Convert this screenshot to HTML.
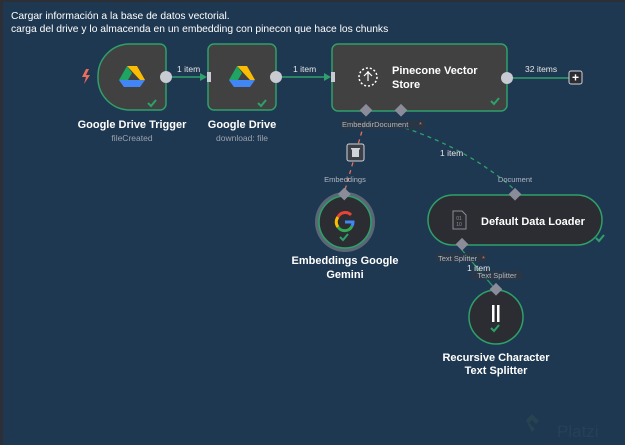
<!DOCTYPE html>
<html><head><meta charset="utf-8"><style>
html,body{margin:0;padding:0;background:#1f3851;width:625px;height:445px;overflow:hidden}
svg{display:block;font-family:"Liberation Sans",sans-serif}
</style></head><body>
<svg width="625" height="445" viewBox="0 0 625 445">
<rect width="625" height="445" fill="#1f3851"/>
<rect x="0" y="0" width="3" height="445" fill="#2c2f35"/>
<rect x="0" y="0" width="625" height="2" fill="#2c2f35"/>
<text x="11" y="19" font-size="10.3" fill="#fff">Cargar información a la base de datos vectorial.</text>
<text x="11" y="32" font-size="10.3" fill="#fff">carga del drive y lo almacenda en un embedding con pinecon que hace los chunks</text>

<!-- connections -->
<line x1="166" y1="77" x2="204" y2="77" stroke="#2ea06a" stroke-width="1.5"/>
<polygon points="200,73 207,77 200,81" fill="#2ea06a"/>
<text x="177" y="72" font-size="8.5" fill="#e6e6e6">1 item</text>
<line x1="276" y1="77" x2="328" y2="77" stroke="#2ea06a" stroke-width="1.5"/>
<polygon points="324,73 331,77 324,81" fill="#2ea06a"/>
<text x="293" y="72" font-size="8.5" fill="#e6e6e6">1 item</text>
<line x1="507" y1="78" x2="569" y2="78" stroke="#2ea06a" stroke-width="1.5"/>
<text x="525" y="72" font-size="8.5" fill="#e6e6e6">32 items</text>
<rect x="569" y="71" width="13" height="13" rx="2" fill="#2b2d33" stroke="#d0d3d9" stroke-width="1"/>
<text x="575.5" y="81.5" font-size="12" fill="#fff" text-anchor="middle" font-weight="bold">+</text>

<!-- dashed -->
<path d="M364,124 L345,190" stroke="#e5725c" stroke-width="1.3" stroke-dasharray="4,4" fill="none"/>
<path d="M405,128 Q470,150 515,190" stroke="#2ea06a" stroke-width="1.3" stroke-dasharray="4,4" fill="none"/>
<line x1="462" y1="250" x2="496" y2="290" stroke="#2ea06a" stroke-width="1.2"/>

<!-- trigger node -->
<path d="M130,44 H160 a6,6 0 0 1 6,6 V104 a6,6 0 0 1 -6,6 H130 a32,32 0 0 1 -32,-32 V76 a32,32 0 0 1 32,-32 Z" fill="#414141" stroke="#2ea06a" stroke-width="1.5"/>
<circle cx="166" cy="77" r="6" fill="#c8cbd2"/>
<path d="M86,69 l-4,8 h4 l-2,7 l6,-9 h-4 l3,-6 z" fill="#ee6b5c"/>
<g transform="translate(132,77)">
<polygon points="-5,-11 5,-11 13,3 8,3" fill="#fbbc04"/>
<polygon points="-5,-11 -13,3 -8,10 0,-4" fill="#1fa463"/>
<polygon points="-13,3 -8,10 8,10 13,3" fill="#4285f4"/>
</g>
<path d="M148,103 l3,3 l5,-6" stroke="#2ea06a" stroke-width="2" fill="none"/>
<text x="132" y="128" font-size="11" font-weight="bold" fill="#fff" text-anchor="middle">Google Drive Trigger</text>
<text x="132" y="141" font-size="8.5" fill="#9aa3ad" text-anchor="middle">fileCreated</text>

<rect x="208" y="44" width="68" height="66" rx="6" fill="#414141" stroke="#2ea06a" stroke-width="1.5"/>
<rect x="207" y="72" width="4" height="10" fill="#c8cbd2"/>
<circle cx="276" cy="77" r="6" fill="#c8cbd2"/>
<g transform="translate(242,77)">
<polygon points="-5,-11 5,-11 13,3 8,3" fill="#fbbc04"/>
<polygon points="-5,-11 -13,3 -8,10 0,-4" fill="#1fa463"/>
<polygon points="-13,3 -8,10 8,10 13,3" fill="#4285f4"/>
</g>
<path d="M258,103 l3,3 l5,-6" stroke="#2ea06a" stroke-width="2" fill="none"/>
<text x="242" y="128" font-size="11" font-weight="bold" fill="#fff" text-anchor="middle">Google Drive</text>
<text x="242" y="141" font-size="8.5" fill="#9aa3ad" text-anchor="middle">download: file</text>

<!-- pinecone -->
<rect x="332" y="44" width="175" height="67" rx="6" fill="#414141" stroke="#2ea06a" stroke-width="1.5"/>
<rect x="331" y="72" width="4" height="10" fill="#c8cbd2"/>
<circle cx="507" cy="78" r="6" fill="#c8cbd2"/>
<circle cx="368" cy="77" r="9" fill="none" stroke="#fff" stroke-width="1.5" stroke-dasharray="2,2"/>
<path d="M368,71 v10 M364,76 l4,-4 l4,4" stroke="#fff" stroke-width="1.2" fill="none"/>
<text x="392" y="74" font-size="11" font-weight="bold" fill="#fff">Pinecone Vector</text>
<text x="392" y="88" font-size="11" font-weight="bold" fill="#fff">Store</text>
<path d="M491,101 l3,3 l5,-6" stroke="#2ea06a" stroke-width="2" fill="none"/>
<rect x="361" y="106" width="9" height="9" fill="#8a8d99" transform="rotate(45 366 111)"/>
<rect x="396" y="106" width="9" height="9" fill="#8a8d99" transform="rotate(45 401 111)"/>
<rect x="341" y="120" width="84" height="9" fill="#2a3644" opacity="0.8"/>
<text x="342" y="127" font-size="7.5" fill="#b0b6bf">EmbeddirDocument</text>
<text x="419" y="127" font-size="7.5" fill="#e5725c">*</text>
<rect x="347" y="144" width="17" height="17" rx="2" fill="#3b3f47" stroke="#d0d3d9" stroke-width="1"/>
<rect x="352" y="149" width="7" height="8" fill="#d0d3d9"/>
<rect x="351" y="148" width="9" height="1.5" fill="#d0d3d9"/>
<text x="440" y="156" font-size="8.5" fill="#e6e6e6">1 item</text>

<!-- gemini -->
<text x="345" y="182" font-size="7.5" fill="#b0b6bf" text-anchor="middle">Embeddings</text>
<circle cx="345" cy="222" r="30" fill="#5a6876"/>
<circle cx="345" cy="222" r="26" fill="#2b2d33" stroke="#2ea06a" stroke-width="1.5"/>
<rect x="340" y="190" width="9" height="9" fill="#8a8d99" transform="rotate(45 345 194)"/>
<g fill="none" stroke-width="3">
<path d="M351,215 A8,8 0 0 0 338,217" stroke="#ea4335"/>
<path d="M338,217 A8,8 0 0 0 338,227" stroke="#fbbc04"/>
<path d="M338,227 A8,8 0 0 0 352,226" stroke="#34a853"/>
<path d="M352,226 A8,8 0 0 0 353,222 H345" stroke="#4285f4"/>
</g>
<path d="M340,237 l3,3 l5,-6" stroke="#2ea06a" stroke-width="2" fill="none"/>
<text x="345" y="264" font-size="11" font-weight="bold" fill="#fff" text-anchor="middle">Embeddings Google</text>
<text x="345" y="278" font-size="11" font-weight="bold" fill="#fff" text-anchor="middle">Gemini</text>

<!-- data loader -->
<text x="515" y="182" font-size="7.5" fill="#b0b6bf" text-anchor="middle">Document</text>
<rect x="428" y="195" width="174" height="50" rx="25" fill="#2b2d33" stroke="#2ea06a" stroke-width="1.5"/>
<rect x="510" y="190" width="9" height="9" fill="#8a8d99" transform="rotate(45 515 195)"/>
<rect x="457" y="240" width="9" height="9" fill="#8a8d99" transform="rotate(45 462 245)"/>
<path d="M453,211 h9 l4,4 v14 h-13 z" fill="none" stroke="#8a8d99" stroke-width="1"/>
<text x="459" y="220" font-size="5" fill="#8a8d99" text-anchor="middle">01</text>
<text x="459" y="226" font-size="5" fill="#8a8d99" text-anchor="middle">10</text>
<text x="481" y="225" font-size="11" font-weight="bold" fill="#fff">Default Data Loader</text>
<path d="M596,238 l3,3 l5,-6" stroke="#2ea06a" stroke-width="2" fill="none"/>
<rect x="436" y="253" width="50" height="9" fill="#2a3644" opacity="0.8"/>
<text x="438" y="261" font-size="7.5" fill="#b0b6bf">Text Splitter</text>
<text x="482" y="261" font-size="7.5" fill="#e5725c">*</text>
<text x="467" y="271" font-size="8.5" fill="#e6e6e6">1 item</text>
<rect x="472" y="271" width="50" height="9" fill="#2a3644" opacity="0.8"/>
<text x="497" y="278" font-size="7.5" fill="#b0b6bf" text-anchor="middle">Text Splitter</text>

<!-- recursive -->
<circle cx="496" cy="317" r="27" fill="#2b2d33" stroke="#2ea06a" stroke-width="1.5"/>
<rect x="491" y="285" width="9" height="9" fill="#8a8d99" transform="rotate(45 496 290)"/>
<rect x="492" y="305" width="2.5" height="17" fill="#fff"/>
<rect x="497" y="305" width="2.5" height="17" fill="#fff"/>
<path d="M491,328 l3,3 l5,-6" stroke="#2ea06a" stroke-width="2" fill="none"/>
<text x="496" y="361" font-size="11" font-weight="bold" fill="#fff" text-anchor="middle">Recursive Character</text>
<text x="496" y="374" font-size="11" font-weight="bold" fill="#fff" text-anchor="middle">Text Splitter</text>

<!-- watermark -->
<path d="M526,420 l6,-6 l7,7 l-3,3 l-4,-4 l-3,3 l6,6 l-3,3 z" fill="#2a4650" opacity="0.8"/>
<text x="557" y="437" font-size="17" fill="#27405a">Platzi</text>
</svg>
</body></html>
